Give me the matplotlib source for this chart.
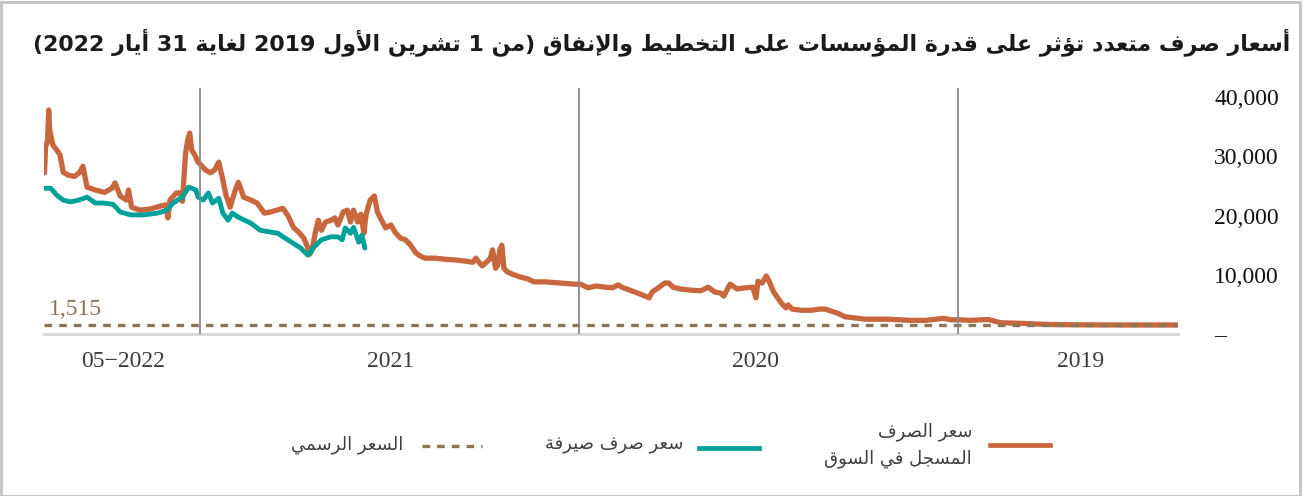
import re
import numpy as np
import matplotlib
matplotlib.use("Agg")
import matplotlib.pyplot as plt
from matplotlib.lines import Line2D
from matplotlib.patches import Rectangle

# ---------------- data ----------------
market_dates = [
    "2022-05-31", "2022-05-30", "2022-05-28", "2022-05-27", "2022-05-26", "2022-05-23",
    "2022-05-19", "2022-05-16", "2022-05-13", "2022-05-08", "2022-05-02", "2022-04-27",
    "2022-04-24", "2022-04-20", "2022-04-12", "2022-04-03", "2022-03-27", "2022-03-24",
    "2022-03-19", "2022-03-13", "2022-03-11", "2022-03-08", "2022-02-28", "2022-02-18",
    "2022-02-08", "2022-02-03", "2022-02-01", "2022-01-30", "2022-01-24", "2022-01-20",
    "2022-01-18", "2022-01-15", "2022-01-13", "2022-01-11", "2022-01-09", "2022-01-06",
    "2022-01-03",
    "2021-12-31", "2021-12-27", "2021-12-22", "2021-12-18", "2021-12-14", "2021-12-10",
    "2021-12-07", "2021-12-03", "2021-11-28", "2021-11-25", "2021-11-20", "2021-11-13",
    "2021-11-07", "2021-10-31", "2021-10-25", "2021-10-19", "2021-10-13", "2021-10-08",
    "2021-10-03", "2021-09-28", "2021-09-23", "2021-09-19", "2021-09-17", "2021-09-15",
    "2021-09-12", "2021-09-09", "2021-09-06", "2021-09-02", "2021-08-28", "2021-08-24",
    "2021-08-21", "2021-08-16", "2021-08-12", "2021-08-09", "2021-08-06", "2021-08-02",
    "2021-07-30", "2021-07-27", "2021-07-25", "2021-07-21", "2021-07-17", "2021-07-14",
    "2021-07-10", "2021-07-06", "2021-07-01", "2021-06-27", "2021-06-22", "2021-06-17",
    "2021-06-12", "2021-06-07", "2021-06-03", "2021-05-29", "2021-05-19", "2021-05-09",
    "2021-04-30", "2021-04-20", "2021-04-13", "2021-04-10", "2021-04-07", "2021-04-04",
    "2021-03-31", "2021-03-27", "2021-03-25", "2021-03-22", "2021-03-20", "2021-03-18",
    "2021-03-16", "2021-03-14", "2021-03-11", "2021-03-06", "2021-02-26", "2021-02-19",
    "2021-02-13", "2021-02-02", "2021-01-18", "2021-01-04",
    "2020-12-30", "2020-12-23", "2020-12-15", "2020-12-06", "2020-11-29", "2020-11-24",
    "2020-11-19", "2020-11-11", "2020-11-02", "2020-10-25", "2020-10-22", "2020-10-16",
    "2020-10-10", "2020-10-06", "2020-10-02", "2020-09-25", "2020-09-15", "2020-09-05",
    "2020-08-29", "2020-08-23", "2020-08-17", "2020-08-14", "2020-08-08", "2020-08-01",
    "2020-07-24", "2020-07-17", "2020-07-14", "2020-07-12", "2020-07-08", "2020-07-04",
    "2020-07-01", "2020-06-27", "2020-06-23", "2020-06-19", "2020-06-15", "2020-06-13",
    "2020-06-09", "2020-05-31", "2020-05-22", "2020-05-14", "2020-05-08", "2020-05-03",
    "2020-04-26", "2020-04-19", "2020-04-09", "2020-03-31", "2020-03-21", "2020-03-09",
    "2020-02-27", "2020-02-16", "2020-02-01", "2020-01-15", "2020-01-08",
    "2019-12-31", "2019-12-20", "2019-12-03", "2019-11-21", "2019-11-02", "2019-10-04",
    "2019-09-05", "2019-07-19", "2019-06-04",
]
market_rate = [
    27200, 31500, 32700, 37800, 34400, 31900,
    31000, 30200, 27300, 26800, 26600, 27300,
    28300, 24800, 24300, 23900, 24600, 25500,
    23300, 22600, 24300, 21400, 20900, 21100,
    21600, 21800, 19600, 22600, 23800, 23800,
    22400, 30500, 32700, 33900, 31000, 30200,
    29000,
    28500, 27700, 27200, 27700, 29000, 26000,
    23400, 21400, 24300, 25600, 23100, 22600,
    22100, 20400, 20600, 20900, 21200, 19900,
    18000, 17200, 16200, 14500, 13500, 14200,
    17000, 19200, 17500, 18900, 19200, 19600,
    18400, 20600, 20900, 18900, 20900, 18900,
    20200, 17000, 20100, 22600, 23300, 20600,
    19200, 17900, 18400, 17200, 16200, 15900,
    15000, 13700, 13200, 12800, 12800, 12600,
    12500, 12300, 12100, 12800, 12100, 11500,
    12100, 12800, 14200, 11100, 11600, 14200,
    15000, 11100, 10500, 10100, 9600, 9300,
    8800, 8800, 8600, 8400,
    8400, 7800, 8100, 7900, 7800, 8300,
    7800, 7300, 6700, 6100, 7100, 7800,
    8600, 8600, 7900, 7600, 7400, 7300,
    7900, 7100, 6900, 6400, 8400, 7600,
    7800, 7900, 6100, 8900, 8600, 9800,
    8800, 7100, 6100, 5100, 4400, 4900,
    4200, 4000, 4000, 4200, 4200, 3900,
    3500, 2900, 2700, 2500, 2500, 2500,
    2400, 2300, 2300, 2650, 2400,
    2400, 2300, 2450, 1900, 1800, 1600,
    1550, 1520, 1520,
]

sayrafa_dates = [
    "2022-05-31", "2022-05-25", "2022-05-19", "2022-05-13", "2022-05-06", "2022-04-28",
    "2022-04-20", "2022-04-12", "2022-04-04", "2022-03-26", "2022-03-19", "2022-03-09",
    "2022-02-25", "2022-02-11", "2022-02-02", "2022-01-27", "2022-01-18", "2022-01-12",
    "2022-01-05", "2022-01-03",
    "2021-12-29", "2021-12-24", "2021-12-20", "2021-12-14", "2021-12-10", "2021-12-05",
    "2021-12-01", "2021-11-25", "2021-11-13", "2021-11-04", "2021-10-25", "2021-10-18",
    "2021-10-13", "2021-10-03", "2021-09-26", "2021-09-19", "2021-09-13", "2021-09-06",
    "2021-08-28", "2021-08-21", "2021-08-17", "2021-08-14", "2021-08-09", "2021-08-06",
    "2021-08-01", "2021-07-29", "2021-07-26",
]
sayrafa_rate = [
    24600, 24600, 23400, 22600, 22300, 22600,
    23100, 22100, 22100, 21900, 20600, 20100,
    20100, 20400, 20900, 22100, 23100, 24800,
    24300, 23100,
    22600, 23800, 22100, 22900, 20400, 19200,
    20400, 19700, 18700, 17500, 17200, 17000,
    16400, 15300, 14500, 13300, 14700, 15900,
    16400, 16400, 15900, 17900, 17000, 18000,
    15500, 16700, 14500,
]

official_rate = 1515
year_starts = ["2022-01-01", "2021-01-01", "2020-01-01"]
x_tick_dates = ["2022-03-16", "2021-07-01", "2020-07-14", "2019-09-05"]
x_tick_labels = ["05\u22122022", "2021", "2020", "2019"]
y_ticks = [0, 10000, 20000, 30000, 40000]

title_text = "أسعار صرف متعدد تؤثر على قدرة المؤسسات على التخطيط والإنفاق (من 1 تشرين الأول 2019 لغاية 31 أيار 2022)"
legend_market = "سعر الصرف\nالمسجل في السوق"
legend_sayrafa = "سعر صرف صيرفة"
legend_official = "السعر الرسمي"

# ---------------- Arabic shaping (presentation forms + visual order) ----------------
def _four(b):
    return (b, b + 1, b + 2, b + 3)

def _two(b):
    return (b, b + 1, None, None)

_AR = {
    "\u0621": (0xFE80, None, None, None),
    "\u0622": _two(0xFE81), "\u0623": _two(0xFE83), "\u0624": _two(0xFE85),
    "\u0625": _two(0xFE87), "\u0626": _four(0xFE89), "\u0627": _two(0xFE8D),
    "\u0628": _four(0xFE8F), "\u0629": _two(0xFE93), "\u062A": _four(0xFE95),
    "\u062B": _four(0xFE99), "\u062C": _four(0xFE9D), "\u062D": _four(0xFEA1),
    "\u062E": _four(0xFEA5), "\u062F": _two(0xFEA9), "\u0630": _two(0xFEAB),
    "\u0631": _two(0xFEAD), "\u0632": _two(0xFEAF), "\u0633": _four(0xFEB1),
    "\u0634": _four(0xFEB5), "\u0635": _four(0xFEB9), "\u0636": _four(0xFEBD),
    "\u0637": _four(0xFEC1), "\u0638": _four(0xFEC5), "\u0639": _four(0xFEC9),
    "\u063A": _four(0xFECD), "\u0641": _four(0xFED1), "\u0642": _four(0xFED5),
    "\u0643": _four(0xFED9), "\u0644": _four(0xFEDD), "\u0645": _four(0xFEE1),
    "\u0646": _four(0xFEE5), "\u0647": _four(0xFEE9), "\u0648": _two(0xFEED),
    "\u0649": _two(0xFEEF), "\u064A": _four(0xFEF1),
}
_LAM_ALEF = {"\u0622": (0xFEF5, 0xFEF6), "\u0623": (0xFEF7, 0xFEF8),
             "\u0625": (0xFEF9, 0xFEFA), "\u0627": (0xFEFB, 0xFEFC)}


def _shape(s):
    out = []
    n = len(s)
    i = 0
    while i < n:
        c = s[i]
        if c not in _AR:
            out.append(c)
            i += 1
            continue
        prev = s[i - 1] if i > 0 else ""
        pj = prev in _AR and _AR[prev][2] is not None
        if c == "\u0644" and i + 1 < n and s[i + 1] in _LAM_ALEF:
            iso, fin = _LAM_ALEF[s[i + 1]]
            out.append(chr(fin if pj else iso))
            i += 2
            continue
        nxt = s[i + 1] if i + 1 < n else ""
        nj = nxt in _AR and _AR[nxt][1] is not None
        f = _AR[c]
        if pj and nj and f[3]:
            g = f[3]
        elif pj and f[1]:
            g = f[1]
        elif nj and f[2]:
            g = f[2]
        else:
            g = f[0]
        out.append(chr(g))
        i += 1
    return "".join(out)


def rtl(text):
    lines = []
    for line in text.split("\n"):
        rev = _shape(line)[::-1]
        rev = re.sub(r"[0-9][0-9,.]*[0-9]|[0-9]", lambda m: m.group(0)[::-1], rev)
        rev = rev.translate(str.maketrans("()", ")("))
        lines.append(rev)
    return "\n".join(lines)

# ---------------- style ----------------
ORANGE = "#c8673d"
TEAL = "#00a19a"
BROWN = "#8c7457"
SERIF = ["Liberation Serif", "DejaVu Serif"]
ARABIC = ["DejaVu Sans"]

W, H = 1306, 496
fig = plt.figure(figsize=(W / 100, H / 100), dpi=100)
fig.patch.set_facecolor("white")
fig.add_artist(Rectangle((1 / W, 0), 1 - 7 / W, 1 - 2 / H, transform=fig.transFigure,
                         fill=False, edgecolor="#c6c6c6", linewidth=2.2))

ax = fig.add_axes([44 / W, 1 - 334 / H, (1178 - 44) / W, (334 - 97) / H])

md = np.array(market_dates, dtype="datetime64[D]")
sd = np.array(sayrafa_dates, dtype="datetime64[D]")

ax.plot(md, market_rate, color=ORANGE, lw=3.8, solid_joinstyle="round",
        solid_capstyle="round", zorder=3)
ax.plot(sd, sayrafa_rate, color=TEAL, lw=3.5, solid_joinstyle="round",
        solid_capstyle="round", zorder=4)
ax.axhline(official_rate, color=BROWN, lw=2.4, linestyle=(0, (2.3, 2.1)), zorder=5)

ys = np.array(year_starts, dtype="datetime64[D]")
ax.vlines(ys, 0, 41500, color="#8a8a8a", lw=1.3, zorder=6, clip_on=False)

ax.set_xlim(np.datetime64("2022-05-31T12"), np.datetime64("2019-06-03"))
ax.set_ylim(0, 40000)

ax.annotate(f"{official_rate:,}", xy=(0.004, official_rate),
            xycoords=("axes fraction", "data"), xytext=(0, 3.5),
            textcoords="offset points", ha="left", va="bottom",
            color=BROWN, fontsize=17, family=SERIF)

# axes styling
for s in ["top", "left", "right"]:
    ax.spines[s].set_visible(False)
ax.spines["bottom"].set_color("#d9d9d9")
ax.spines["bottom"].set_linewidth(2.2)

ax.set_xticks(np.array(x_tick_dates, dtype="datetime64[D]"))
ax.set_xticklabels(x_tick_labels, family=SERIF, fontsize=17, color="#3c3c3c")
ax.tick_params(axis="x", length=0, pad=12)

ax.yaxis.tick_right()
ax.set_yticks(y_ticks)
ax.set_yticklabels([f"{v:,}" if v else "\u2013" for v in y_ticks],
                   family=SERIF, fontsize=17, color="#111111")
ax.tick_params(axis="y", length=0, pad=26)
for lab in ax.get_yticklabels():
    lab.set_horizontalalignment("left")

# title
fig.text(1290 / W, 1 - 42 / H, rtl(title_text), ha="right", va="center",
         fontsize=15.9, fontweight="bold", family=ARABIC, color="#1a1a1a")

# legend (right-to-left layout)
def fy(y):
    return 1 - y / H

fig.add_artist(Line2D([990 / W, 1050 / W], [fy(445), fy(445)], color=ORANGE, lw=3.4,
                      transform=fig.transFigure))
fig.text(972 / W, fy(445), rtl(legend_market), ha="right", va="center",
         fontsize=13, family=ARABIC, color="#404040", linespacing=1.6, multialignment="right")
fig.add_artist(Line2D([699 / W, 759 / W], [fy(448), fy(448)], color=TEAL, lw=3.4,
                      transform=fig.transFigure))
fig.text(683 / W, fy(445), rtl(legend_sayrafa), ha="right", va="center",
         fontsize=13, family=ARABIC, color="#404040")
fig.add_artist(Line2D([422 / W, 482 / W], [fy(446), fy(446)], color=BROWN, lw=2.4,
                      linestyle=(0, (2.3, 2.1)), transform=fig.transFigure))
fig.text(403 / W, fy(445), rtl(legend_official), ha="right", va="center",
         fontsize=13, family=ARABIC, color="#404040")

fig.savefig("out.png", dpi=100, facecolor="white")
